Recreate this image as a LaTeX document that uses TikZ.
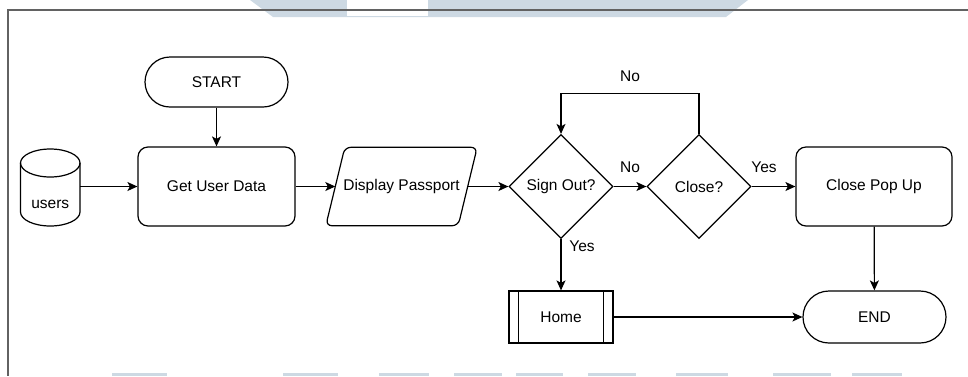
\documentclass[tikz,border=0pt]{standalone}
\usepackage{fontspec}
\setmainfont{Liberation Sans}
\usetikzlibrary{shapes.geometric,arrows.meta,calc}

\definecolor{frameGray}{RGB}{98,98,98}
\definecolor{markBlue}{RGB}{205,217,227}

\tikzset{
  base/.style={draw=black, line width=1.2pt, inner sep=0pt, align=center,
               font=\fontsize{15.5}{18}\selectfont},
  terminal/.style={base, rectangle, rounded corners=25pt,
                   minimum width=143pt, minimum height=50pt},
  procbox/.style={base, rectangle, rounded corners=10pt,
                  minimum width=157pt, minimum height=79pt},
  decision/.style={base, diamond, aspect=1,
                   minimum width=104pt, minimum height=104pt},
  subproc/.style={base, rectangle, minimum width=104pt, minimum height=52pt},
  ghost/.style={inner sep=0pt, font=\fontsize{15.5}{18}\selectfont},
  flow/.style={line width=1.2pt, -{Stealth[length=10pt,width=9pt,inset=2.5pt]}},
  lbl/.style={inner sep=0pt, font=\fontsize{15.5}{18}\selectfont},
}

\begin{document}
\begin{tikzpicture}[x=1pt,y=-1pt]
\useasboundingbox (0,0) rectangle (968,376);

% faint marks along the top and bottom edges
\fill[markBlue] (250,0) -- (748,0) -- (726,17) -- (273,17) -- cycle;
\fill[white] (347,0) rectangle (428,16);
\foreach \a/\b in {112/167,283/338,379/429,454/502,516/563,588/636,676/728,773/831,852/902}
  \fill[markBlue] (\a,373) rectangle (\b,376);

% page frame
\draw[frameGray, line width=1.4pt] (968,10) -- (8,10) -- (8,376);

% nodes
\node[terminal] (start) at (216.5,82) {START};
\node[procbox] (getdata) at (216.5,186.5) {Get User Data};

% database cylinder (y grows downwards here, so arcs run the other way)
\node[minimum width=59.5pt, minimum height=77pt, inner sep=0pt] (users) at (50.25,187.5) {};
\draw[line width=1.2pt]
  (20.5,163) -- (20.5,212) arc[start angle=180, end angle=0, x radius=29.75, y radius=14]
  -- (80,163) arc[start angle=0, end angle=-180, x radius=29.75, y radius=14] -- cycle;
\draw[line width=1.2pt]
  (20.5,163) arc[start angle=180, end angle=0, x radius=29.75, y radius=14];
\node[ghost] (userstext) at (50.25,204) {users};

% parallelogram for the display step
\node[ghost, minimum width=132pt, minimum height=78pt] (display) at (401.5,186.5) {Display Passport};
\draw[line width=1.2pt, rounded corners=6pt]
  ($(display.south west)+(-9.5,0)$) -- ($(display.north west)+(9.5,0)$)
  -- ($(display.north east)+(9.5,0)$) -- ($(display.south east)+(-9.5,0)$) -- cycle;

\node[decision] (signout) at (561,186.5) {Sign Out?};
\node[decision] (close) at (699,186.5) {Close?};
\node[procbox, minimum width=156pt] (closepop) at (874,186.5) {Close Pop Up};

\node[subproc] (home) at (561,317) {Home};
\draw[line width=1.2pt] ($(home.north west)+(10,0)$) -- ($(home.south west)+(10,0)$);
\draw[line width=1.2pt] ($(home.north east)+(-10,0)$) -- ($(home.south east)+(-10,0)$);

\node[terminal, minimum height=52pt, rounded corners=26pt] (end) at (874.5,317) {END};

% connectors
\draw[flow] (start) -- (getdata);
\draw[flow] (users.east |- getdata.west) -- (getdata.west);
\draw[flow] (getdata) -- (display);
\draw[flow] (display) -- (signout);
\draw[flow] (signout) -- (close);
\draw[flow] (close) -- (closepop);
\coordinate (loopR) at ($(close.north)+(0,-40.5)$);
\draw[flow] (close.north) -- (loopR) -| (signout.north);
\draw[flow] (signout) -- (home);
\draw[flow] (home) -- (end);
\draw[flow] (closepop) -- (end);

% branch labels
\node[lbl] (noTop) at (630,76) {No};
\node[lbl] (noMid) at (630,167) {No};
\node[lbl] (yesRight) at (764,167) {Yes};
\node[lbl] (yesDown) at (582,246) {Yes};
\end{tikzpicture}
\end{document}
